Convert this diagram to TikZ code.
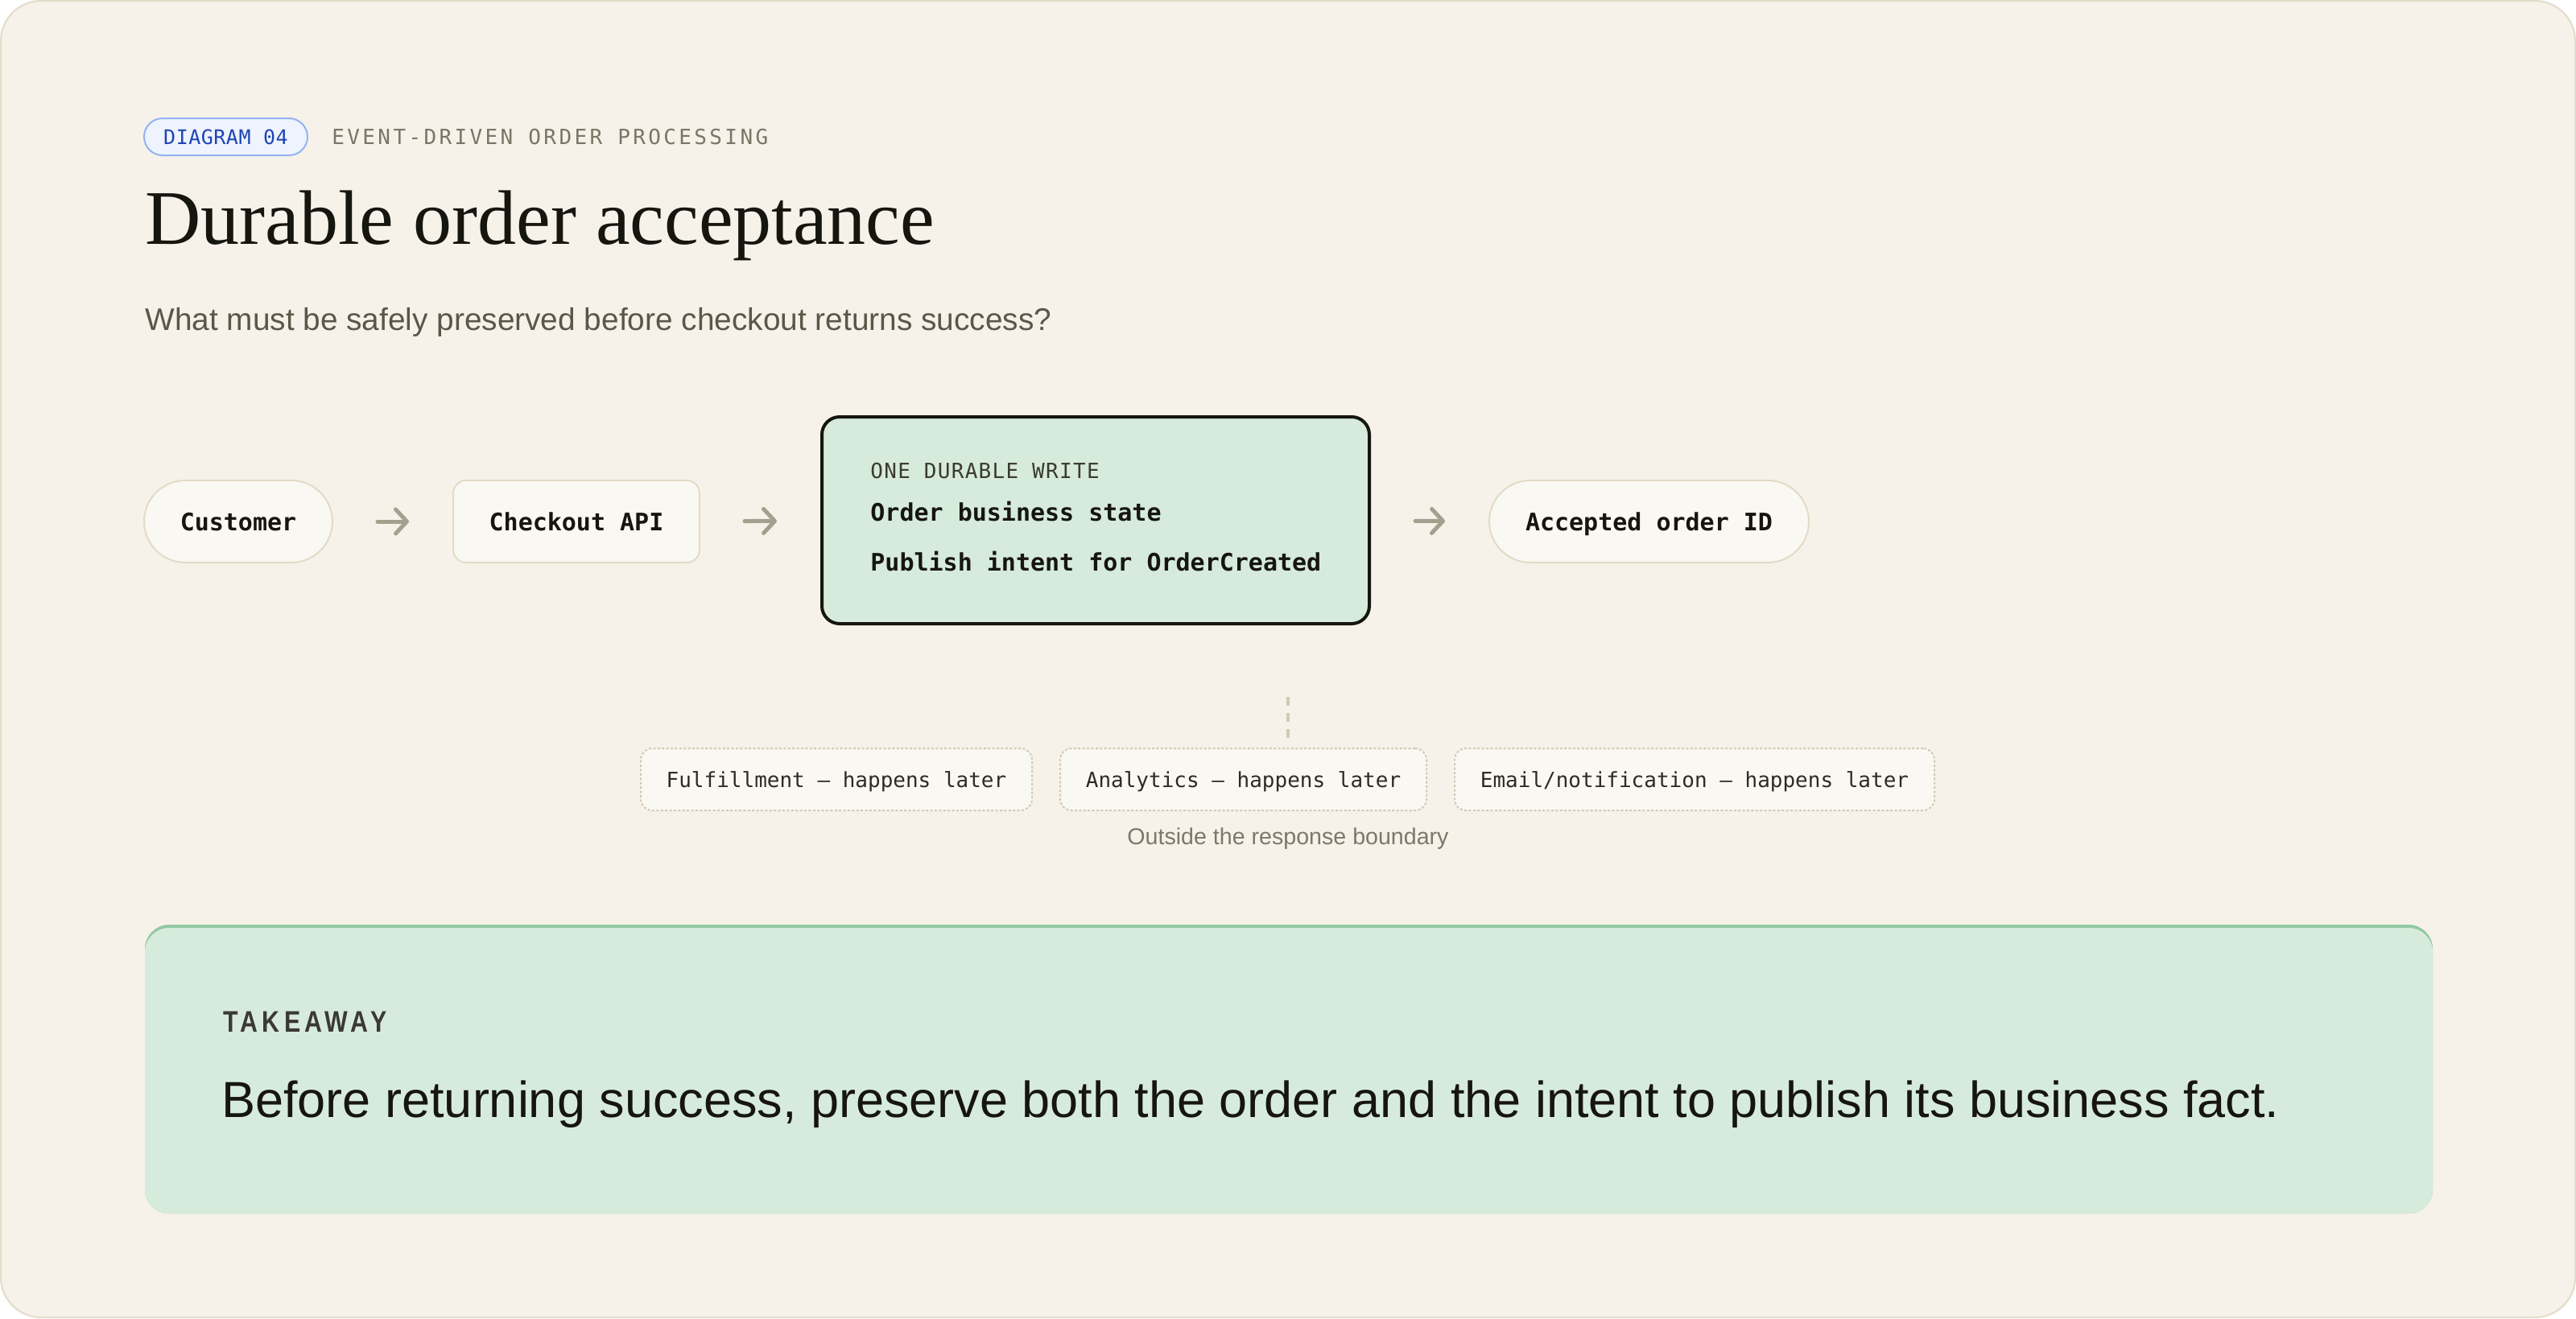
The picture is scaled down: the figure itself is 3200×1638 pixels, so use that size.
\documentclass[tikz,border=0pt]{standalone}
\usepackage{fontspec}
\usetikzlibrary{arrows.meta}
\newfontfamily\titlef{Liberation Serif}
\newfontfamily\sansf{Liberation Sans}
\newfontfamily\monof{DejaVu Sans Mono}
\newfontfamily\monoeyebrow[LetterSpace=13]{DejaVu Sans Mono}
\newfontfamily\monobadge[LetterSpace=2]{DejaVu Sans Mono}
\newfontfamily\monolabel[LetterSpace=5]{DejaVu Sans Mono}
\newfontfamily\takef[LetterSpace=14,FakeStretch=0.82]{Liberation Sans}
\definecolor{bg}{HTML}{F6F2EA}
\definecolor{frame}{HTML}{E3DCC8}
\definecolor{pillfill}{HTML}{FAF8F2}
\definecolor{pillline}{HTML}{E2DBC6}
\definecolor{arrowc}{HTML}{A5A08E}
\definecolor{durfill}{HTML}{D6EBDB}
\definecolor{ink}{HTML}{16150F}
\definecolor{inksoft}{HTML}{3B3A30}
\definecolor{badgefill}{HTML}{EEF3FD}
\definecolor{badgeline}{HTML}{94B3F2}
\definecolor{badgetext}{HTML}{1F45B5}
\definecolor{eyebrow}{HTML}{7B7566}
\definecolor{subtitle}{HTML}{5C5648}
\definecolor{dotline}{HTML}{D2CAB4}
\definecolor{dottext}{HTML}{2E2B24}
\definecolor{note}{HTML}{7D7868}
\definecolor{takefill}{HTML}{D7EBDC}
\definecolor{takeline}{HTML}{93C8A1}
\definecolor{takehead}{HTML}{3A3A32}
\tikzset{
  pillnode/.style={draw=pillline, fill=pillfill, line width=1pt, inner sep=0pt,
    minimum height=51pt, text=ink, text height=11pt, text depth=0pt,
    font=\monof\bfseries\fontsize{15}{18}\selectfont},
  flowarrow/.style={draw=arrowc, line width=2.5pt, line cap=round,
    -{Straight Barb[length=7pt,width=15pt,round]}, shorten <=27.5pt, shorten >=27pt},
  laterbox/.style={draw=dotline, fill=pillfill, line width=1pt, dash pattern=on 1.5pt off 1.2pt,
    rounded corners=7pt, minimum height=38.5pt, inner sep=0pt, text=dottext,
    text height=9.5pt, text depth=0pt, font=\monof\fontsize{13}{16}\selectfont},
  plaintext/.style={inner sep=0pt, anchor=base west},
}
\begin{document}
\begin{tikzpicture}[x=0.5pt,y=-0.5pt]
\useasboundingbox (0,0) rectangle (3200,1638);
\fill[white] (0,0) rectangle (3200,1638);
\draw[fill=bg, draw=frame, line width=1pt, rounded corners=25pt] (1,1) rectangle (3199,1637);

% header
\node[draw=badgeline, fill=badgefill, line width=1pt, rounded corners=11.5pt,
  minimum width=101.5pt, minimum height=23pt, inner sep=0pt, text=badgetext,
  text height=9pt, text depth=0pt, font=\monobadge\fontsize{12.5}{15}\selectfont]
  (badge) at (280.5,170) {DIAGRAM 04};
\node[plaintext, text=eyebrow, font=\monoeyebrow\fontsize{13}{16}\selectfont]
  (eyebrowtxt) at (412,179) {EVENT-DRIVEN ORDER PROCESSING};
\node[plaintext, text=ink, font=\titlef\fontsize{48}{56}\selectfont]
  (title) at (180,303) {Durable order acceptance};
\node[plaintext, text=subtitle, font=\sansf\fontsize{19.4}{23}\selectfont]
  (subtitle) at (180,410) {What must be safely preserved before checkout returns success?};

% flow
\node[pillnode, rounded corners=25.5pt, minimum width=117pt] (cust) at (296,648) {Customer};
\node[pillnode, rounded corners=8pt, minimum width=153pt] (chk) at (716,648) {Checkout API};
\node[draw=ink, fill=durfill, line width=2pt, rounded corners=11pt, minimum width=340pt,
  minimum height=128.5pt, inner sep=0pt] (dur) at (1361,646.5) {};
\node[plaintext, text=inksoft, font=\monolabel\fontsize{13}{16}\selectfont] (durhead) at (1081,594) {ONE DURABLE WRITE};
\node[plaintext, text=ink, font=\monof\bfseries\fontsize{15}{18}\selectfont] (durone) at (1081,647) {Order business state};
\node[plaintext, text=ink, font=\monof\bfseries\fontsize{15}{18}\selectfont] (durtwo) at (1081,709) {Publish intent for OrderCreated};
\node[pillnode, rounded corners=25.5pt, minimum width=198.5pt] (acc) at (2048.5,648) {Accepted order ID};

\draw[flowarrow] (cust) -- (chk);
\draw[flowarrow] (chk) -- (dur);
\draw[flowarrow] (dur) -- (acc);

% later work
\coordinate (linetop) at (1600,866);
\coordinate (grouptop) at (1600,918);
\draw[draw=dotline, line width=2pt, dash pattern=on 5.5pt off 4.5pt] (linetop) -- (grouptop);
\node[laterbox, minimum width=243pt] (ful) at (1039,968.5) {Fulfillment — happens later};
\node[laterbox, minimum width=227.5pt] (ana) at (1544.5,968.5) {Analytics — happens later};
\node[laterbox, minimum width=298pt] (eml) at (2105,968.5) {Email/notification — happens later};
\node[inner sep=0pt, anchor=base, text=note, font=\sansf\fontsize{14.3}{17}\selectfont]
  (outside) at (1600,1049) {Outside the response boundary};

% takeaway
\fill[takeline, rounded corners=15pt] (180,1149) rectangle (3022,1508);
\fill[takefill, rounded corners=15pt] (180,1153) rectangle (3022,1508);
\node[plaintext, text=takehead, font=\takef\bfseries\fontsize{18.5}{22}\selectfont] (takehead) at (277,1282) {TAKEAWAY};
\node[plaintext, text=ink, font=\sansf\fontsize{31.5}{37}\selectfont] (takeline) at (275,1388)
  {Before returning success, preserve both the order and the intent to publish its business fact.};
\end{tikzpicture}
\end{document}
